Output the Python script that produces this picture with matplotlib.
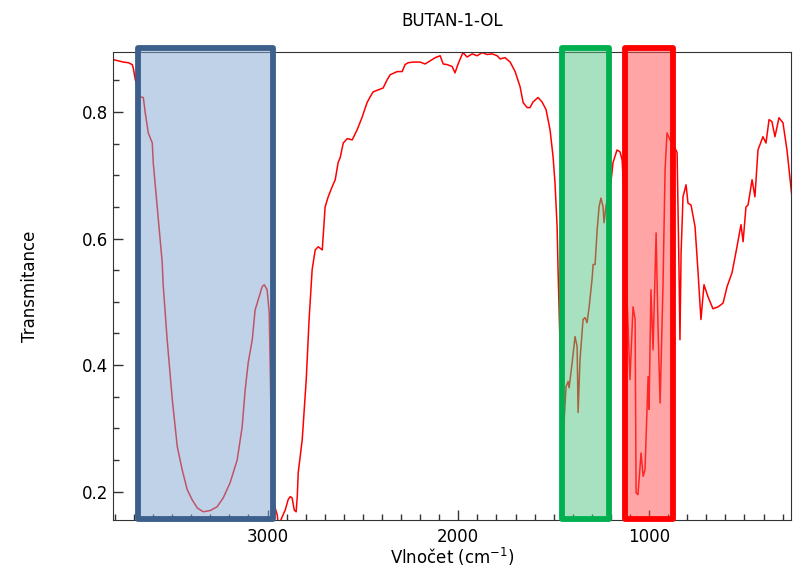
import matplotlib
matplotlib.use("Agg")
import matplotlib.pyplot as plt
import numpy as np
from matplotlib.patches import Rectangle
from matplotlib.ticker import MultipleLocator

# IR spectrum of butan-1-ol
wavenumber = [3809, 3782, 3756, 3730, 3709, 3704, 3693, 3667, 3651, 3641,
              3625, 3604, 3599, 3583, 3568, 3552, 3547, 3526, 3499, 3473,
              3447, 3421, 3395, 3368, 3337, 3300, 3264, 3232, 3196, 3159,
              3133, 3117, 3101, 3080, 3065, 3049, 3028, 3017, 3002, 2991,
              2981, 2965, 2949, 2944, 2934, 2923, 2907, 2892, 2881, 2871,
              2860, 2850, 2844, 2839, 2818, 2797, 2782, 2766, 2750, 2734,
              2713, 2698, 2682, 2661, 2645, 2630, 2619, 2603, 2582, 2556,
              2530, 2504, 2478, 2462, 2446, 2420, 2394, 2373, 2357, 2320,
              2294, 2279, 2263, 2237, 2200, 2174, 2148, 2121, 2095, 2079,
              2058, 2032, 2017, 2001, 1980, 1975, 1954, 1927, 1901, 1875,
              1849, 1823, 1796, 1781, 1755, 1728, 1702, 1676, 1660, 1639,
              1624, 1608, 1582, 1561, 1540, 1519, 1503, 1493, 1482, 1477,
              1466, 1451, 1435, 1424, 1419, 1403, 1388, 1377, 1372, 1362,
              1346, 1335, 1325, 1314, 1299, 1293, 1283, 1272, 1262, 1252,
              1241, 1236, 1225, 1204, 1189, 1168, 1152, 1141, 1131, 1115,
              1100, 1084, 1073, 1068, 1058, 1042, 1031, 1021, 1005, 1000,
              990, 979, 963, 953, 942, 927, 916, 906, 890, 864,
              853, 843, 838, 832, 822, 806, 796, 780, 759, 743,
              728, 712, 691, 665, 638, 612, 591, 565, 539, 518,
              507, 492, 481, 460, 445, 429, 403, 387, 371, 356,
              340, 319, 298, 277, 251]
transmitance = [0.883, 0.881, 0.879, 0.878, 0.875, 0.870, 0.851, 0.824, 0.823, 0.799,
                0.767, 0.751, 0.720, 0.666, 0.614, 0.562, 0.527, 0.440, 0.345, 0.271,
                0.234, 0.203, 0.187, 0.174, 0.168, 0.170, 0.176, 0.190, 0.214, 0.250,
                0.302, 0.361, 0.404, 0.440, 0.487, 0.503, 0.524, 0.527, 0.519, 0.483,
                0.313, 0.179, 0.163, 0.148, 0.152, 0.160, 0.171, 0.187, 0.192, 0.190,
                0.171, 0.168, 0.192, 0.230, 0.282, 0.377, 0.472, 0.551, 0.582, 0.587,
                0.582, 0.650, 0.666, 0.682, 0.693, 0.720, 0.728, 0.751, 0.758, 0.756,
                0.772, 0.792, 0.815, 0.824, 0.832, 0.835, 0.838, 0.851, 0.859, 0.864,
                0.864, 0.875, 0.878, 0.879, 0.879, 0.876, 0.881, 0.886, 0.889, 0.876,
                0.875, 0.872, 0.862, 0.876, 0.891, 0.894, 0.887, 0.892, 0.889, 0.894,
                0.891, 0.892, 0.889, 0.884, 0.886, 0.879, 0.864, 0.840, 0.815, 0.807,
                0.807, 0.816, 0.823, 0.816, 0.804, 0.772, 0.729, 0.688, 0.619, 0.551,
                0.424, 0.282, 0.366, 0.374, 0.364, 0.404, 0.445, 0.429, 0.325, 0.408,
                0.472, 0.475, 0.467, 0.492, 0.535, 0.559, 0.559, 0.614, 0.650, 0.664,
                0.650, 0.625, 0.653, 0.677, 0.720, 0.740, 0.737, 0.724, 0.661, 0.503,
                0.377, 0.492, 0.472, 0.198, 0.195, 0.261, 0.224, 0.235, 0.382, 0.330,
                0.519, 0.424, 0.609, 0.460, 0.340, 0.524, 0.709, 0.767, 0.756, 0.743,
                0.736, 0.551, 0.440, 0.577, 0.666, 0.685, 0.656, 0.653, 0.619, 0.546,
                0.472, 0.527, 0.508, 0.489, 0.492, 0.498, 0.524, 0.546, 0.587, 0.622,
                0.595, 0.650, 0.653, 0.693, 0.666, 0.740, 0.761, 0.751, 0.788, 0.785,
                0.761, 0.791, 0.783, 0.740, 0.666]

# highlighted bands: (from, to) in cm-1
band_ranges = [(3680, 2973), (1458, 1212), (1126, 877)]
band_edge = ['#3d5f8c', '#00b050', '#ff0000']
band_fill = [(0.51, 0.655, 0.82, 0.5), (0.32, 0.77, 0.5, 0.5), (1.0, 0.3, 0.3, 0.5)]

fig = plt.figure(figsize=(7.94, 5.71), dpi=100)
ax = fig.add_axes([0.1423, 0.0893, 0.8539, 0.8197])

ax.plot(wavenumber, transmitance, color='red', lw=1.1, zorder=2)

y_lo, y_hi = 0.157, 0.901
for (a, b), ec, fc in zip(band_ranges, band_edge, band_fill):
    ax.add_patch(Rectangle((b, y_lo), a - b, y_hi - y_lo, facecolor=fc,
                           edgecolor=ec, lw=4.2, joinstyle='round',
                           clip_on=False, zorder=3))

ax.set_xlim(3810, 256)
ax.set_ylim(0.155, 0.895)

ax.xaxis.set_major_locator(MultipleLocator(1000))
ax.xaxis.set_minor_locator(MultipleLocator(100))
ax.yaxis.set_major_locator(MultipleLocator(0.2))
ax.yaxis.set_minor_locator(MultipleLocator(0.05))
ax.tick_params(which='both', direction='in', labelsize=12, color='#333333')
ax.tick_params(which='major', length=7, width=1)
ax.tick_params(which='minor', length=4, width=1)
ax.tick_params(axis='x', pad=6)
for s in ax.spines.values():
    s.set_color('#333333')

ax.set_title('BUTAN-1-OL', fontsize=12, pad=19)
ax.set_xlabel('Vlnočet (cm$^{-1}$)', fontsize=12, labelpad=0)
ax.set_ylabel('Transmitance', fontsize=12, labelpad=31)

fig.savefig('out.png', dpi=100)
